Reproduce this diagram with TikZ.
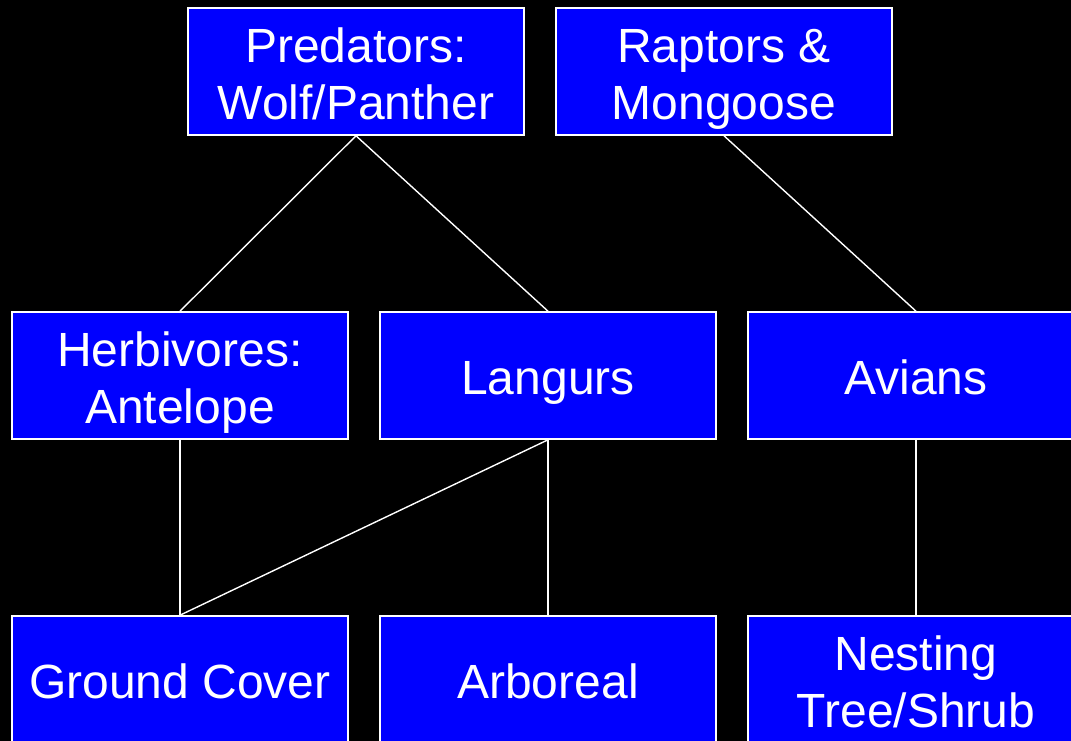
\documentclass[tikz,border=0pt]{standalone}
\usepackage{fontspec}
\setmainfont{Liberation Sans}
\usepackage{tikz}
\newcommand{\unitsize}{1pt}
\newcommand{\boxline}[1]{\strut#1}
\tikzset{
	habitat/.style={draw=white, line width=1.6pt, fill=blue, text=white,
		minimum width=336, minimum height=127, inner sep=0pt, align=center,
		font=\fontsize{48}{57}\selectfont},
	link/.style={draw=white, line width=1.4pt}
}

\begin{document}
\begin{tikzpicture}[x=\unitsize,y=\unitsize]
	\useasboundingbox[fill=black] (0,0) rectangle (1071,741);

	\node[habitat] (pred) at (356,669.5) {};
	\node[habitat] (rapt) at (724,669.5) {};
	\node[habitat] (herb) at (180,365.5) {};
	\node[habitat] (lang) at (548,365.5) {};
	\node[habitat] (avian) at (916,365.5) {};
	\node[habitat] (ground) at (180,61.5) {};
	\node[habitat] (arbo) at (548,61.5) {};
	\node[habitat] (nest) at (916,61.5) {};

	% labels, set a little below the box centres
	\begin{scope}[every node/.style={text=white, align=center, inner sep=0pt,
		font=\fontsize{48}{57}\selectfont, yshift=-8}]
	\node (pred-txt) at (pred) {\boxline{Predators:}\\\boxline{Wolf/Panther}};
	\node (rapt-txt) at (rapt) {\boxline{Raptors \&}\\\boxline{Mongoose}};
	\node (herb-txt) at (herb) {\boxline{Herbivores:}\\\boxline{Antelope}};
	\node (lang-txt) at (lang) {\boxline{Langurs}};
	\node (avian-txt) at (avian) {\boxline{Avians}};
	\node (ground-txt) at (ground) {\boxline{Ground Cover}};
	\node (arbo-txt) at (arbo) {\boxline{Arboreal}};
	\node (nest-txt) at (nest) {\boxline{Nesting}\\\boxline{Tree/Shrub}};
	\end{scope}

	\draw[link] (pred.south) -- (herb.north);
	\draw[link] (pred.south) -- (lang.north);
	\draw[link] (rapt.south) -- (avian.north);
	\draw[link] (herb.south) -- (ground.north);
	\draw[link] (lang.south) -- (ground.north);
	\draw[link] (lang.south) -- (arbo.north);
	\draw[link] (avian.south) -- (nest.north);

\end{tikzpicture}
\end{document}
